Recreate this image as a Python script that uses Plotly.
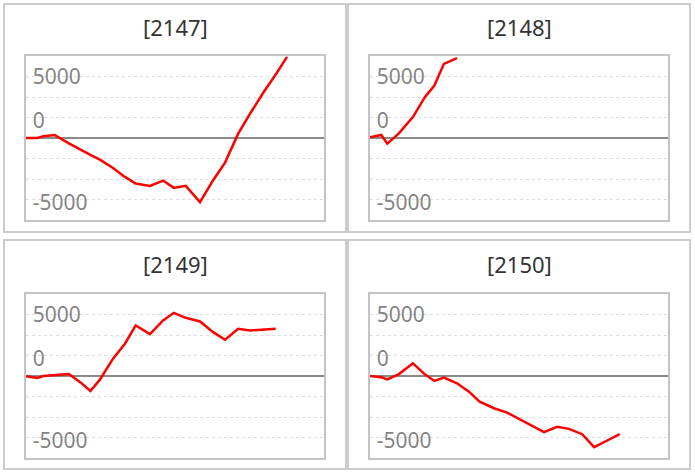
import plotly.graph_objects as go

# ---------------- data ----------------
titles = ["[2147]", "[2148]", "[2149]", "[2150]"]

days = [0, 0.95, 1.45, 2.4, 3.6, 4.6, 5.4, 6.2, 7.3, 8.3, 9.2, 10.4, 11.5,
        12.4, 13.4, 14.6, 15.7, 16.7, 17.8, 18.8, 19.9, 20.95, 21.9]

s2147 = [0, 0, 135, 243, -430, -973, -1378, -1757, -2433, -3162, -3703, -3892,
         -3460, -4054, -3892, -5217, -3433, -2000, 351, 1973, 3676, 5163, 6600]
s2148 = [54, 243, -460, 351, 1703, 3325, 4271, 6027, 6500]
s2149 = [-27, -162, 0, 67, 162, -541, -1216, -297, 1406, 2622, 4109, 3406,
         4514, 5136, 4730, 4433, 3568, 2946, 3838, 3703, 3770, 3838]
s2150 = [0, -108, -270, 135, 1027, 135, -405, -135, -595, -1270, -2081, -2622,
         -2973, -3433, -3892, -4568, -4135, -4298, -4730, -5784, -5244, -4730]
series = [s2147, s2148, s2149, s2150]

tick_text = ["5000", "0", "-5000"]
tick_pos = [5000, 1400, -5250]
grid_vals = [5000, 3333.3, 1666.7, -1666.7, -3333.3, -5000]
y_range = [-6667, 6667]
x_range = [0, 25]

# ---------------- layout helpers ----------------
W, H = 695, 475


def fx(px):
    return px / W


def fy(py):
    return 1 - py / H


plot_boxes = [  # left, right, top, bottom (pixels)
    (26, 324, 56, 220),
    (370, 668, 56, 220),
    (26, 324, 294, 458),
    (370, 668, 294, 458),
]
panel_boxes = [
    (4, 346, 4, 232),
    (348, 690, 4, 232),
    (4, 346, 240, 469),
    (348, 690, 240, 469),
]
title_y = [27, 27, 264, 264]

FONT = "Noto Sans"

fig = go.Figure()
layout = dict(
    width=W, height=H, margin=dict(l=0, r=0, t=0, b=0),
    paper_bgcolor="white", plot_bgcolor="white", showlegend=False,
    font=dict(family=FONT), shapes=[], annotations=[],
)

for i in range(4):
    n = i + 1
    xa = "x" if n == 1 else f"x{n}"
    ya = "y" if n == 1 else f"y{n}"
    vals = series[i]
    fig.add_trace(go.Scatter(
        x=days[:len(vals)], y=vals, xaxis=xa, yaxis=ya, mode="lines",
        line=dict(color="#ff0000", width=2.5), hoverinfo="skip",
    ))
    l, r, t, b = plot_boxes[i]
    xkey = "xaxis" if n == 1 else f"xaxis{n}"
    ykey = "yaxis" if n == 1 else f"yaxis{n}"
    layout[xkey] = dict(
        domain=[fx(l), fx(r)], range=x_range, anchor=ya,
        showgrid=False, zeroline=False, showticklabels=False, ticks="",
        showline=True, mirror=True, linecolor="#c4c4c4", linewidth=2,
        fixedrange=True,
    )
    layout[ykey] = dict(
        domain=[fy(b), fy(t)], range=y_range, anchor=xa,
        tickmode="array", tickvals=tick_pos, ticktext=tick_text,
        ticklabelposition="inside", ticks="",
        tickfont=dict(family=FONT, size=21, color="#858585"),
        ticklabelstandoff=8,
        showgrid=False,
        minor=dict(tickmode="array", tickvals=grid_vals, showgrid=True,
                   gridcolor="#dcdcdc", griddash="dot", gridwidth=1, ticks=""),
        zeroline=True, zerolinecolor="#8a8a8a", zerolinewidth=2,
        showline=True, mirror=True, linecolor="#c4c4c4", linewidth=2,
        fixedrange=True,
    )
    pl, pr, pt, pb = panel_boxes[i]
    layout["shapes"].append(dict(
        type="rect", xref="paper", yref="paper",
        x0=fx(pl), x1=fx(pr), y0=fy(pb), y1=fy(pt),
        line=dict(color="#cccccc", width=2), layer="below",
    ))
    layout["annotations"].append(dict(
        text=titles[i], xref="paper", yref="paper",
        x=fx((pl + pr) / 2), y=fy(title_y[i]),
        xanchor="center", yanchor="middle", showarrow=False,
        font=dict(family=FONT, size=22, color="#333333"),
    ))

fig.update_layout(**layout)
fig.write_html(
    "out.html",
    config={"displayModeBar": False},
    post_script="document.body.style.margin='0';document.body.style.overflow='hidden';",
)
